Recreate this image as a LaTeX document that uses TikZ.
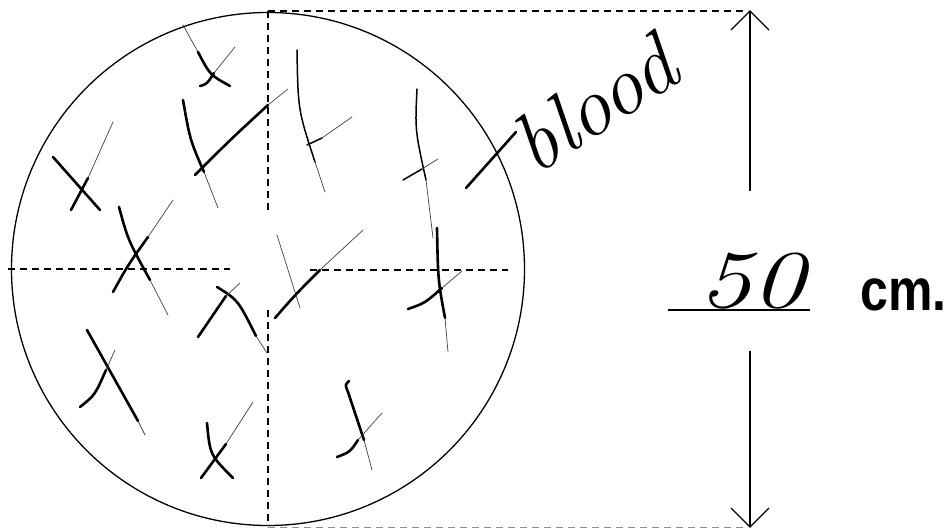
\documentclass[tikz,border=0pt]{standalone}
\usepackage{fontspec}
\newfontfamily\labelsans{Liberation Sans}
\begin{document}
\begin{tikzpicture}[x=1pt,y=-1pt,
  outline/.style={line width=1.3pt},
  guide/.style={line width=1.4pt,dash pattern=on 7pt off 5pt},
  pen/.style={line width=2.6pt,line cap=round},
  mid/.style={line width=1.5pt,line cap=round},
  faint/.style={line width=0.7pt,line cap=round,black!75},
  barb/.style={line width=1.1pt}]
\useasboundingbox (0,0) rectangle (947,529);
% circle and guides
\draw[outline] (268,269) circle[radius=256.5];
\draw[guide] (268,11) -- (268,210);
\draw[guide] (268,310) -- (268,526);
\draw[guide] (8,269) -- (230,269);
\draw[guide] (310,270) -- (508,270);
\draw[guide,line width=1.1pt] (268,11) -- (748,11);
\draw[guide,line width=1pt,black!45] (268,527) -- (748,527);
% dimension arrows
\coordinate (topTip) at (750,11);
\coordinate (botTip) at (750,527);
\draw[barb] (750,191) -- (topTip);
\draw[barb] (731,30) -- (topTip) -- (769,30);
\draw[barb] (750,351) -- (botTip);
\draw[barb] (731,508) -- (botTip) -- (769,508);
\draw[line width=1.1pt] (668,310) -- (810,310);
% hatch strokes
% 1
\draw[faint] (183,25) -- (198,52);
\draw[pen] (198,52) .. controls (210,75) .. (230,86);
\draw[pen] (200,86) .. controls (207,84) .. (214,73);
\draw[faint] (214,73) -- (235,47);
% 2
\draw[pen] (53,157) -- (100,210);
\draw[pen] (71,210) -- (88,178);
\draw[faint] (88,178) -- (113,122);
% 3
\draw[pen] (183,100) .. controls (190,140) .. (204,172);
\draw[faint] (204,172) -- (218,208);
\draw[pen] (195,175) .. controls (230,140) .. (268,105);
\draw[faint] (268,105) -- (288,89);
% 4
\draw[pen] (119,207) .. controls (128,240) .. (150,280);
\draw[faint] (150,280) -- (168,315);
\draw[pen] (113,292) .. controls (128,265) .. (148,237);
\draw[faint] (148,237) -- (173,200);
% 5
\draw[mid] (297,50) .. controls (298,110) .. (315,162);
\draw[faint] (315,162) -- (325,192);
\draw[mid] (307,145) -- (322,138);
\draw[faint] (322,138) -- (352,117);
% 7
\draw[mid] (417,89) .. controls (415,130) .. (426,180);
\draw[faint] (426,180) -- (433,238);
\draw[mid] (403,180) -- (422,169);
\draw[faint] (422,169) -- (438,159);
\draw[pen] (437,228) .. controls (438,280) .. (445,318);
\draw[faint] (445,318) -- (448,352);
\draw[pen] (408,309) .. controls (425,303) .. (442,288);
\draw[faint] (442,288) -- (462,271);
% 8
\draw[faint] (277,235) -- (300,308);
\draw[pen] (275,318) .. controls (295,295) .. (320,270);
\draw[faint] (320,270) -- (363,230);
% 10
\draw[pen] (217,287) .. controls (238,300) .. (256,336);
\draw[faint] (256,336) -- (267,353);
\draw[pen] (198,337) -- (226,296);
\draw[faint] (226,296) -- (240,283);
% 11
\draw[pen] (87,330) -- (138,421);
\draw[faint] (138,421) -- (145,435);
\draw[pen] (80,407) .. controls (95,395) .. (106,370);
\draw[faint] (106,370) -- (115,350);
% 12
\draw[pen] (207,423) .. controls (210,455) .. (233,478);
\draw[pen] (201,478) -- (226,444);
\draw[faint] (226,444) -- (253,402);
% 13
\draw[pen] (349,381) .. controls (345,385) .. (348,392) -- (364,440);
\draw[faint] (364,440) -- (372,470);
\draw[pen] (337,457) .. controls (350,452) .. (358,440);
\draw[faint] (358,440) -- (382,413);
% blood label with its stroke
\draw[pen] (466,188) -- (516,132);
\node[rotate=33,inner sep=0pt] (blood) at (594,104) {\fontsize{84}{84}\selectfont\itshape blood};
% value and unit
\node[anchor=base west,inner sep=0pt] (val) at (698,307) {\scalebox{1.3}[1]{\fontsize{82}{82}\selectfont\itshape 50}};
\node[anchor=base west,inner sep=0pt] (unit) at (860,310) {\scalebox{1}[1.18]{\fontsize{50}{50}\selectfont\labelsans\bfseries cm.}};
\end{tikzpicture}
\end{document}
